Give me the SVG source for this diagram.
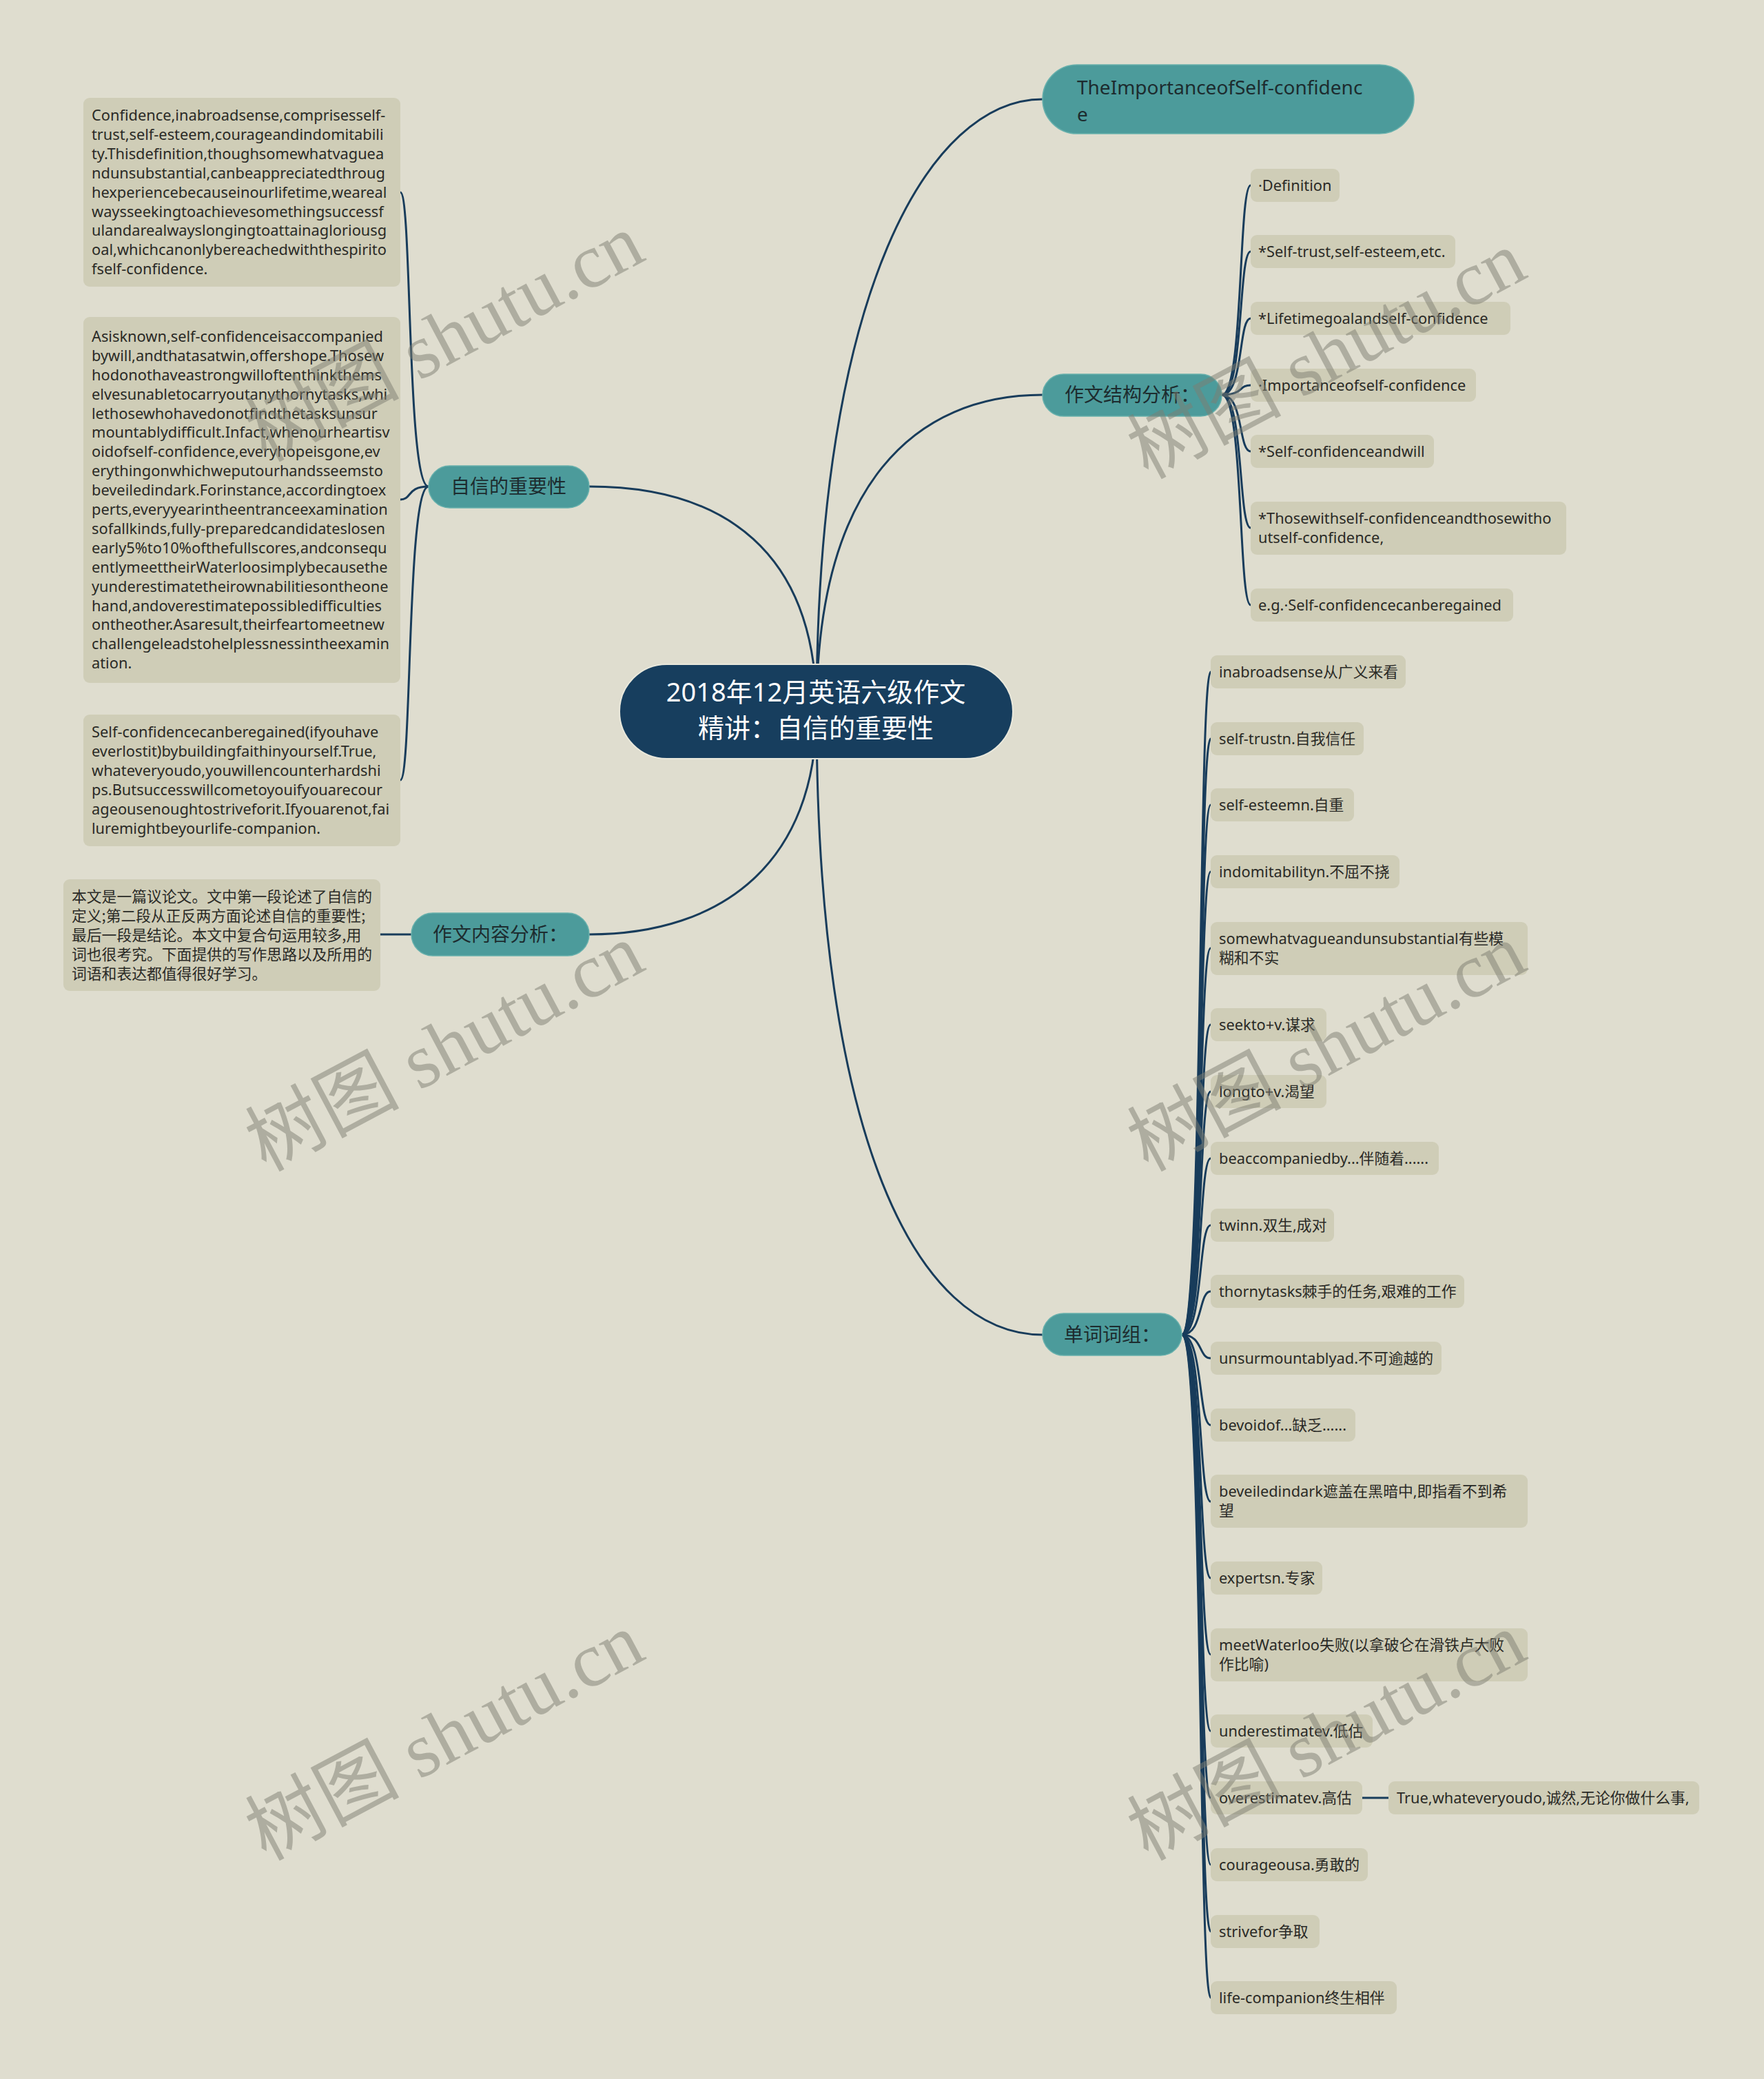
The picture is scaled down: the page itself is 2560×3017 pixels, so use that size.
<svg xmlns="http://www.w3.org/2000/svg" width="2560" height="3017" viewBox="0 0 2560 3017">
<style>
.conn path{fill:none;stroke:#183c5b;stroke-width:3}
.root rect{fill:#173e5e;stroke:#e9e8dc;stroke-width:2}
.branch rect{fill:#4c9b9b;stroke:#67b0ac;stroke-width:1.5}
.leaf rect{fill:#cfcdb7}
text{font-family:"Noto Sans","Noto Sans CJK SC",sans-serif}
.rt{font-size:38px;fill:#ffffff;text-anchor:middle}
.bt{font-size:28px;fill:#1d2c2f}
.bc{text-anchor:middle}
.lt{font-size:21.8px;fill:#2a2a26}
.ct{font-size:21.8px;fill:#2a2a26;font-family:"Noto Sans CJK SC",sans-serif}
.wm{font-family:"Liberation Serif","Noto Sans CJK SC",serif;font-size:112px;fill:#7d7d72;fill-opacity:0.5;text-anchor:middle}
</style>
<rect width="2560" height="3017" fill="#dfddcf"/>

<g id="connectors" class="conn">
<path d="M1185,1033 C1185,420 1350,144 1513,144"/>
<path d="M1185,1033 C1185,700 1330,573 1513,573"/>
<path d="M1185,1033 C1185,1650 1330,1937 1513,1937"/>
<path d="M1185,1033 C1185,800 1050,706 855,706"/>
<path d="M1185,1033 C1185,1250 1050,1356 855,1356"/>
<path d="M1773,573 C1805,573 1797,269 1815,269"/>
<path d="M1773,573 C1805,573 1797,365 1815,365"/>
<path d="M1773,573 C1805,573 1797,462 1815,462"/>
<path d="M1773,573 C1805,573 1797,559 1815,559"/>
<path d="M1773,573 C1805,573 1797,655 1815,655"/>
<path d="M1773,573 C1805,573 1797,766 1815,766"/>
<path d="M1773,573 C1805,573 1797,878 1815,878"/>
<path d="M622,706 C590,706 598,279 581,279"/>
<path d="M622,706 C590,706 598,725 581,725"/>
<path d="M622,706 C590,706 598,1132 581,1132"/>
<path d="M597,1356 L552,1356"/>
<path d="M1715,1937 C1746,1937 1739,975 1757,975"/>
<path d="M1715,1937 C1746,1937 1739,1072 1757,1072"/>
<path d="M1715,1937 C1746,1937 1739,1168 1757,1168"/>
<path d="M1715,1937 C1746,1937 1739,1265 1757,1265"/>
<path d="M1715,1937 C1746,1937 1739,1376 1757,1376"/>
<path d="M1715,1937 C1746,1937 1739,1487 1757,1487"/>
<path d="M1715,1937 C1746,1937 1739,1584 1757,1584"/>
<path d="M1715,1937 C1746,1937 1739,1681 1757,1681"/>
<path d="M1715,1937 C1746,1937 1739,1778 1757,1778"/>
<path d="M1715,1937 C1746,1937 1739,1874 1757,1874"/>
<path d="M1715,1937 C1746,1937 1739,1971 1757,1971"/>
<path d="M1715,1937 C1746,1937 1739,2068 1757,2068"/>
<path d="M1715,1937 C1746,1937 1739,2179 1757,2179"/>
<path d="M1715,1937 C1746,1937 1739,2290 1757,2290"/>
<path d="M1715,1937 C1746,1937 1739,2401 1757,2401"/>
<path d="M1715,1937 C1746,1937 1739,2512 1757,2512"/>
<path d="M1715,1937 C1746,1937 1739,2609 1757,2609"/>
<path d="M1715,1937 C1746,1937 1739,2706 1757,2706"/>
<path d="M1715,1937 C1746,1937 1739,2803 1757,2803"/>
<path d="M1715,1937 C1746,1937 1739,2899 1757,2899"/>
<path d="M1977,2609 L2015,2609"/>
</g>

<g id="root" class="root">
<rect x="899" y="964" width="571" height="137" rx="68.5"/>
<text class="rt" x="1184" y="1018">2018年12月英语六级作文</text>
<text class="rt" x="1184" y="1070">精讲：自信的重要性</text>
</g>

<g id="b-importance" class="branch">
<rect x="1513" y="94" width="539" height="100" rx="50"/>
<text class="bt" x="1563" y="137">TheImportanceofSelf-confidenc</text>
<text class="bt" x="1563" y="176">e</text>
</g>
<g id="b-structure" class="branch">
<rect x="1513" y="543" width="260" height="61" rx="30.5"/>
<text class="bt bc" x="1643" y="583">作文结构分析：</text>
</g>
<g id="b-confidence" class="branch">
<rect x="622" y="676" width="233" height="61" rx="30.5"/>
<text class="bt bc" x="738" y="716">自信的重要性</text>
</g>
<g id="b-content" class="branch">
<rect x="597" y="1325" width="258" height="62" rx="31"/>
<text class="bt bc" x="726" y="1366">作文内容分析：</text>
</g>
<g id="b-vocab" class="branch">
<rect x="1513" y="1906" width="202" height="61" rx="30.5"/>
<text class="bt bc" x="1614" y="1947">单词词组：</text>
</g>

<g id="s1" class="leaf"><rect x="1815" y="245" width="129" height="48" rx="9"/><text class="lt" x="1826" y="277">·Definition</text></g>
<g id="s2" class="leaf"><rect x="1815" y="341" width="297" height="48" rx="9"/><text class="lt" x="1826" y="373">*Self-trust,self-esteem,etc.</text></g>
<g id="s3" class="leaf"><rect x="1815" y="438" width="377" height="48" rx="9"/><text class="lt" x="1826" y="470">*Lifetimegoalandself-confidence</text></g>
<g id="s4" class="leaf"><rect x="1815" y="535" width="327" height="48" rx="9"/><text class="lt" x="1826" y="567">·Importanceofself-confidence</text></g>
<g id="s5" class="leaf"><rect x="1815" y="631" width="266" height="48" rx="9"/><text class="lt" x="1826" y="663">*Self-confidenceandwill</text></g>
<g id="s6" class="leaf"><rect x="1815" y="728" width="458" height="77" rx="9"/><text class="lt" x="1826" y="760">*Thosewithself-confidenceandthosewitho</text><text class="lt" x="1826" y="788">utself-confidence,</text></g>
<g id="s7" class="leaf"><rect x="1815" y="854" width="381" height="48" rx="9"/><text class="lt" x="1826" y="886">e.g.·Self-confidencecanberegained</text></g>

<g id="p1" class="leaf"><rect x="121" y="142" width="460" height="274" rx="9"/>
<text class="lt" x="133" y="175">Confidence,inabroadsense,comprisesself-</text>
<text class="lt" x="133" y="203">trust,self-esteem,courageandindomitabili</text>
<text class="lt" x="133" y="231">ty.Thisdefinition,thoughsomewhatvaguea</text>
<text class="lt" x="133" y="259">ndunsubstantial,canbeappreciatedthroug</text>
<text class="lt" x="133" y="287">hexperiencebecauseinourlifetime,weareal</text>
<text class="lt" x="133" y="315">waysseekingtoachievesomethingsuccessf</text>
<text class="lt" x="133" y="342">ulandarealwayslongingtoattainagloriousg</text>
<text class="lt" x="133" y="370">oal,whichcanonlybereachedwiththespirito</text>
<text class="lt" x="133" y="398">fself-confidence.</text>
</g>
<g id="p2" class="leaf"><rect x="121" y="460" width="460" height="531" rx="9"/>
<text class="lt" x="133" y="496">Asisknown,self-confidenceisaccompanied</text>
<text class="lt" x="133" y="524">bywill,andthatasatwin,offershope.Thosew</text>
<text class="lt" x="133" y="552">hodonothaveastrongwilloftenthinkthems</text>
<text class="lt" x="133" y="580">elvesunabletocarryoutanythornytasks,whi</text>
<text class="lt" x="133" y="608">lethosewhohavedonotfindthetasksunsur</text>
<text class="lt" x="133" y="635">mountablydifficult.Infact,whenourheartisv</text>
<text class="lt" x="133" y="663">oidofself-confidence,everyhopeisgone,ev</text>
<text class="lt" x="133" y="691">erythingonwhichweputourhandsseemsto</text>
<text class="lt" x="133" y="719">beveiledindark.Forinstance,accordingtoex</text>
<text class="lt" x="133" y="747">perts,everyyearintheentranceexamination</text>
<text class="lt" x="133" y="775">sofallkinds,fully-preparedcandidateslosen</text>
<text class="lt" x="133" y="803">early5%to10%ofthefullscores,andconsequ</text>
<text class="lt" x="133" y="831">entlymeettheirWaterloosimplybecausethe</text>
<text class="lt" x="133" y="859">yunderestimatetheirownabilitiesontheone</text>
<text class="lt" x="133" y="887">hand,andoverestimatepossibledifficulties</text>
<text class="lt" x="133" y="914">ontheother.Asaresult,theirfeartomeetnew</text>
<text class="lt" x="133" y="942">challengeleadstohelplessnessintheexamin</text>
<text class="lt" x="133" y="970">ation.</text>
</g>
<g id="p3" class="leaf"><rect x="121" y="1037" width="460" height="191" rx="9"/>
<text class="lt" x="133" y="1070">Self-confidencecanberegained(ifyouhave</text>
<text class="lt" x="133" y="1098">everlostit)bybuildingfaithinyourself.True,</text>
<text class="lt" x="133" y="1126">whateveryoudo,youwillencounterhardshi</text>
<text class="lt" x="133" y="1154">ps.Butsuccesswillcometoyouifyouarecour</text>
<text class="lt" x="133" y="1182">ageousenoughtostriveforit.Ifyouarenot,fai</text>
<text class="lt" x="133" y="1210">luremightbeyourlife-companion.</text>
</g>
<g id="c1" class="leaf"><rect x="92" y="1276" width="460" height="162" rx="9"/>
<text class="ct" x="104" y="1309">本文是一篇议论文。文中第一段论述了自信的</text>
<text class="ct" x="104" y="1337">定义;第二段从正反两方面论述自信的重要性;</text>
<text class="ct" x="104" y="1365">最后一段是结论。本文中复合句运用较多,用</text>
<text class="ct" x="104" y="1393">词也很考究。下面提供的写作思路以及所用的</text>
<text class="ct" x="104" y="1421">词语和表达都值得很好学习。</text>
</g>

<g id="v1" class="leaf"><rect x="1757" y="951" width="283" height="48" rx="9"/><text class="lt" x="1769" y="983">inabroadsense从广义来看</text></g>
<g id="v2" class="leaf"><rect x="1757" y="1048" width="222" height="48" rx="9"/><text class="lt" x="1769" y="1080">self-trustn.自我信任</text></g>
<g id="v3" class="leaf"><rect x="1757" y="1144" width="208" height="48" rx="9"/><text class="lt" x="1769" y="1176">self-esteemn.自重</text></g>
<g id="v4" class="leaf"><rect x="1757" y="1241" width="274" height="48" rx="9"/><text class="lt" x="1769" y="1273">indomitabilityn.不屈不挠</text></g>
<g id="v5" class="leaf"><rect x="1757" y="1338" width="460" height="77" rx="9"/><text class="lt" x="1769" y="1370">somewhatvagueandunsubstantial有些模</text><text class="lt" x="1769" y="1398">糊和不实</text></g>
<g id="v6" class="leaf"><rect x="1757" y="1463" width="168" height="48" rx="9"/><text class="lt" x="1769" y="1495">seekto+v.谋求</text></g>
<g id="v7" class="leaf"><rect x="1757" y="1560" width="168" height="48" rx="9"/><text class="lt" x="1769" y="1592">longto+v.渴望</text></g>
<g id="v8" class="leaf"><rect x="1757" y="1657" width="331" height="48" rx="9"/><text class="lt" x="1769" y="1689">beaccompaniedby...伴随着......</text></g>
<g id="v9" class="leaf"><rect x="1757" y="1754" width="179" height="48" rx="9"/><text class="lt" x="1769" y="1786">twinn.双生,成对</text></g>
<g id="v10" class="leaf"><rect x="1757" y="1850" width="368" height="48" rx="9"/><text class="lt" x="1769" y="1882">thornytasks棘手的任务,艰难的工作</text></g>
<g id="v11" class="leaf"><rect x="1757" y="1947" width="335" height="48" rx="9"/><text class="lt" x="1769" y="1979">unsurmountablyad.不可逾越的</text></g>
<g id="v12" class="leaf"><rect x="1757" y="2044" width="210" height="48" rx="9"/><text class="lt" x="1769" y="2076">bevoidof...缺乏......</text></g>
<g id="v13" class="leaf"><rect x="1757" y="2140" width="460" height="77" rx="9"/><text class="lt" x="1769" y="2172">beveiledindark遮盖在黑暗中,即指看不到希</text><text class="lt" x="1769" y="2200">望</text></g>
<g id="v14" class="leaf"><rect x="1757" y="2266" width="162" height="48" rx="9"/><text class="lt" x="1769" y="2298">expertsn.专家</text></g>
<g id="v15" class="leaf"><rect x="1757" y="2363" width="460" height="77" rx="9"/><text class="lt" x="1769" y="2395">meetWaterloo失败(以拿破仑在滑铁卢大败</text><text class="lt" x="1769" y="2423">作比喻)</text></g>
<g id="v16" class="leaf"><rect x="1757" y="2488" width="235" height="48" rx="9"/><text class="lt" x="1769" y="2520">underestimatev.低估</text></g>
<g id="v17" class="leaf"><rect x="1757" y="2585" width="220" height="48" rx="9"/><text class="lt" x="1769" y="2617">overestimatev.高估</text></g>
<g id="v17a" class="leaf"><rect x="2015" y="2585" width="451" height="48" rx="9"/><text class="lt" x="2027" y="2617">True,whateveryoudo,诚然,无论你做什么事,</text></g>
<g id="v18" class="leaf"><rect x="1757" y="2682" width="228" height="48" rx="9"/><text class="lt" x="1769" y="2714">courageousa.勇敢的</text></g>
<g id="v19" class="leaf"><rect x="1757" y="2779" width="158" height="48" rx="9"/><text class="lt" x="1769" y="2811">strivefor争取</text></g>
<g id="v20" class="leaf"><rect x="1757" y="2875" width="270" height="48" rx="9"/><text class="lt" x="1769" y="2907">life-companion终生相伴</text></g>

<g id="watermarks">
<text class="wm" transform="translate(645,490) rotate(-28)" y="38">树图 shutu.cn</text>
<text class="wm" transform="translate(1925,515) rotate(-28)" y="38">树图 shutu.cn</text>
<text class="wm" transform="translate(645,1520) rotate(-28)" y="38">树图 shutu.cn</text>
<text class="wm" transform="translate(1925,1520) rotate(-28)" y="38">树图 shutu.cn</text>
<text class="wm" transform="translate(645,2520) rotate(-28)" y="38">树图 shutu.cn</text>
<text class="wm" transform="translate(1925,2520) rotate(-28)" y="38">树图 shutu.cn</text>
</g>
</svg>
